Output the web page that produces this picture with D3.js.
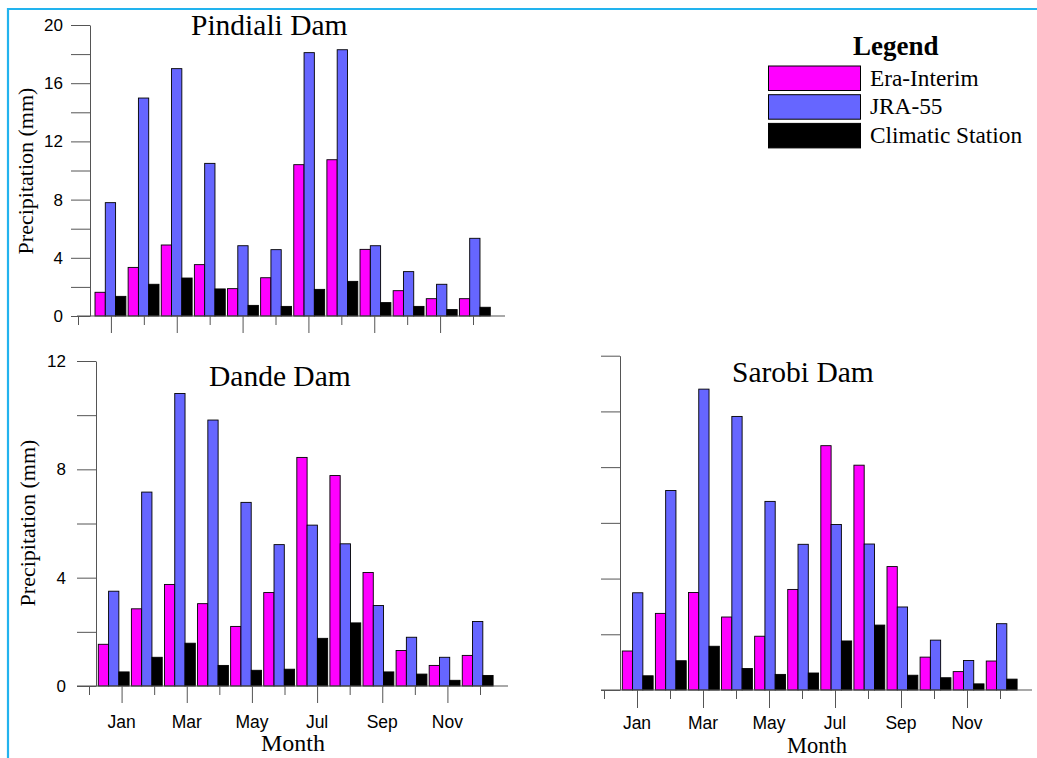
<!DOCTYPE html>
<html><head><meta charset="utf-8">
<script src="https://cdn.jsdelivr.net/npm/d3@7"></script>
<style>
body{margin:0;background:#fff;}
svg{display:block;}
</style></head>
<body>
<svg id="chart" width="1037" height="758"></svg>
<script>
const months = ["Jan","Feb","Mar","Apr","May","Jun","Jul","Aug","Sep","Oct","Nov","Dec"];
const seriesNames = ["Era-Interim","JRA-55","Climatic Station"];
const seriesColors = ["#ff00ff","#6666ff","#000000"];
const monthTickLabels = ["Jan","Mar","May","Jul","Sep","Nov"];

// Pindiali Dam
const pindialiEra = [1.63,3.34,4.88,3.53,1.88,2.63,10.4,10.74,4.58,1.74,1.19,1.19];
const pindialiJra = [7.79,14.98,17.0,10.49,4.83,4.56,18.1,18.3,4.83,3.05,2.18,5.34];
const pindialiStation = [1.35,2.18,2.61,1.86,0.73,0.66,1.83,2.38,0.92,0.66,0.44,0.6];
// Dande Dam
const dandeEra = [1.54,2.85,3.75,3.04,2.2,3.45,8.44,7.77,4.19,1.31,0.76,1.13];
const dandeJra = [3.5,7.16,10.8,9.82,6.78,5.22,5.94,5.25,2.97,1.8,1.06,2.38];
const dandeStation = [0.52,1.06,1.58,0.76,0.58,0.62,1.76,2.33,0.52,0.44,0.21,0.39];
// Sarobi Dam
const sarobiEra = [1.4,2.75,3.5,2.62,1.93,3.61,8.77,8.07,4.43,1.18,0.66,1.04];
const sarobiJra = [3.49,7.16,10.8,9.82,6.77,5.23,5.94,5.24,2.98,1.79,1.06,2.38];
const sarobiStation = [0.51,1.05,1.57,0.77,0.56,0.61,1.76,2.33,0.53,0.44,0.22,0.39];

const svg = d3.select("#chart");
const axisColor = "#555";
const sans = "'Liberation Sans', Arial, sans-serif";
const serif = "'Liberation Serif', 'Times New Roman', serif";

// frame border
svg.append("path").attr("d","M8,758 L8,9 L1037,9")
  .attr("fill","none").attr("stroke","#22b3ee").attr("stroke-width",2.2);

function panel(cfg){
  const g = svg.append("g");
  const y = d3.scaleLinear().domain([0,cfg.yMax]).range([cfg.yZero,cfg.yTop]);
  const x = d3.scaleBand().domain(months).range(cfg.barRange).paddingInner(0.068).paddingOuter(0);
  const xs = d3.scaleBand().domain(seriesNames).range([0,x.bandwidth()]);
  const xt = d3.scaleLinear().domain([0,12]).range(cfg.tickRange);

  const rows = months.map((m,i)=>({m, vals: cfg.data.map(s=>s[i])}));
  const grp = g.selectAll(".grp").data(rows).join("g")
    .attr("transform",d=>`translate(${x(d.m)},0)`);
  grp.selectAll("rect").data(d=>d.vals.map((v,j)=>({v,name:seriesNames[j],c:seriesColors[j]})))
    .join("rect")
    .attr("x",d=>xs(d.name)).attr("width",xs.bandwidth())
    .attr("y",d=>y(d.v)).attr("height",d=>cfg.yZero-y(d.v))
    .attr("fill",d=>d.c).attr("stroke","#000").attr("stroke-width",0.9);

  // y axis
  const ticks = d3.range(0,cfg.yMax+0.001,2);
  const ya = g.append("g").attr("transform",`translate(${cfg.yAxisX},0)`)
    .call(d3.axisLeft(y).tickValues(ticks).tickSize(19).tickSizeOuter(0).tickPadding(cfg.tickPad)
      .tickFormat(d=> (cfg.yLabels && d%4===0) ? d : ""));
  ya.select(".domain").attr("stroke",axisColor);
  ya.selectAll(".tick line").attr("stroke",axisColor);
  ya.selectAll(".tick text").attr("font-family",sans)
    .attr("font-size",17).attr("fill","#000");

  // x axis
  g.append("line").attr("x1",cfg.xLine[0]).attr("x2",cfg.xLine[1])
    .attr("y1",cfg.yZero).attr("y2",cfg.yZero).attr("stroke",axisColor).attr("stroke-width",1.2);
  const xa = g.append("g").attr("transform",`translate(0,${cfg.yZero})`)
    .call(d3.axisBottom(xt).tickValues(d3.range(0,13)).tickSize(cfg.shortTick).tickFormat(""));
  xa.select(".domain").remove();
  xa.selectAll(".tick line").attr("stroke",axisColor)
    .attr("y2",d=> d%2===1 ? cfg.longTick : cfg.shortTick);
  if(cfg.xLabels){
    g.selectAll(".mlab").data(monthTickLabels).join("text")
      .attr("x",(d,i)=>xt(2*i+1)).attr("y",cfg.labelY).attr("text-anchor","middle")
      .attr("font-family",sans).attr("font-size",17.5)
      .text(d=>d);
    g.append("text").attr("x",cfg.monthX).attr("y",cfg.monthY).attr("text-anchor","middle")
      .attr("font-family",serif).attr("font-size",cfg.monthFont)
      .text("Month");
  }
  if(cfg.yTitle){
    g.append("text").attr("transform",`translate(${cfg.yTitle[0]},${cfg.yTitle[1]}) rotate(-90)`)
      .attr("text-anchor","middle").attr("dominant-baseline","central")
      .attr("font-family",serif).attr("font-size",22)
      .text("Precipitation (mm)");
  }
  g.append("text").attr("x",cfg.titleX).attr("y",cfg.titleY)
    .attr("font-family",serif).attr("font-size",29.5)
    .text(cfg.title);
}

panel({title:"Pindiali Dam", titleX:191, titleY:35,
  data:[pindialiEra,pindialiJra,pindialiStation],
  yMax:20, yTop:25, yZero:316, yAxisX:90, tickPad:8, yLabels:true,
  barRange:[95,95+12*32.94], tickRange:[78,473], xLine:[77,505],
  shortTick:9, longTick:17, xLabels:false, yTitle:[25,171]});

panel({title:"Dande Dam", titleX:209, titleY:386,
  data:[dandeEra,dandeJra,dandeStation],
  yMax:12, yTop:361, yZero:686, yAxisX:96, tickPad:11, yLabels:true,
  barRange:[98.3,98.3+12*32.9], tickRange:[89,480], xLine:[77,508],
  shortTick:9, longTick:17, xLabels:true, labelY:728, monthX:293, monthY:751, monthFont:24,
  yTitle:[27,523]});

panel({title:"Sarobi Dam", titleX:732, titleY:382,
  data:[sarobiEra,sarobiJra,sarobiStation],
  yMax:12, yTop:355.7, yZero:690, yAxisX:620, tickPad:9, yLabels:false,
  barRange:[622.3,622.3+12*32.9], tickRange:[604,1000], xLine:[601,1032],
  shortTick:9, longTick:18, xLabels:true, labelY:729, monthX:817, monthY:753, monthFont:22.5,
  yTitle:null});

// legend
const lg = svg.append("g");
lg.append("text").attr("x",853).attr("y",55)
  .attr("font-family",serif).attr("font-size",27)
  .attr("font-weight","bold").text("Legend");
const ly = d3.scaleBand().domain(seriesNames).range([66,147.9]).paddingInner(0.146);
lg.selectAll("rect").data(seriesNames).join("rect")
  .attr("x",768.5).attr("y",d=>ly(d)).attr("width",92).attr("height",ly.bandwidth())
  .attr("fill",(d,i)=>seriesColors[i]).attr("stroke","#000").attr("stroke-width",1);
lg.selectAll(".lt").data(seriesNames).join("text")
  .attr("x",870).attr("y",d=>ly(d)+ly.bandwidth()-5)
  .attr("font-family",serif).attr("font-size",23.3)
  .text(d=>d);
</script>
</body></html>
